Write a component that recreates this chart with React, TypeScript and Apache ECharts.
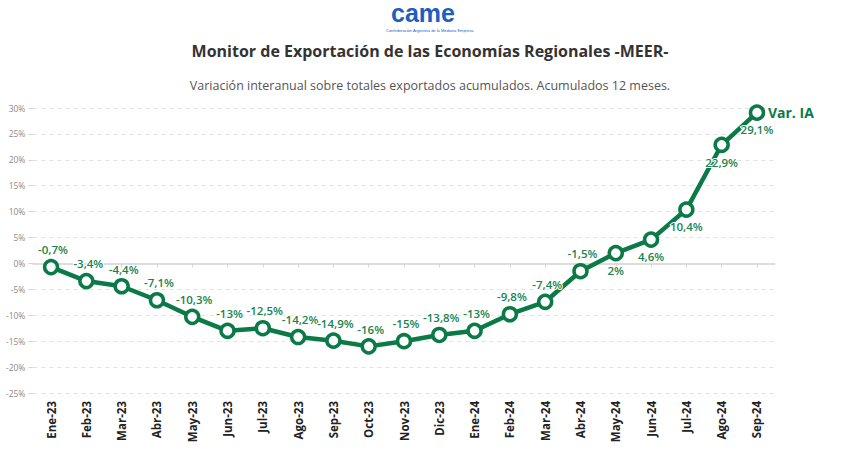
import React, { useEffect, useRef } from "react";
import * as echarts from "echarts";

const categories = [
  "Ene-23", "Feb-23", "Mar-23", "Abr-23", "May-23", "Jun-23", "Jul-23",
  "Ago-23", "Sep-23", "Oct-23", "Nov-23", "Dic-23", "Ene-24", "Feb-24",
  "Mar-24", "Abr-24", "May-24", "Jun-24", "Jul-24", "Ago-24", "Sep-24",
];
const varIA = [
  -0.7, -3.4, -4.4, -7.1, -10.3, -13, -12.5, -14.2, -14.9, -16, -15, -13.8,
  -13, -9.8, -7.4, -1.5, 2, 4.6, 10.4, 22.9, 29.1,
];
const labelBelow = ["May-24", "Jun-24", "Jul-24", "Ago-24", "Sep-24"];
const seriesName = "Var. IA";
const titleText = "Monitor de Exportación de las Economías Regionales -MEER-";
const subtitleText = "Variación interanual sobre totales exportados acumulados. Acumulados 12 meses.";

const GREEN = "#0b7a47";
const fmt = (v: number) => String(v).replace(".", ",") + "%";

export default function App() {
  const ref = useRef<HTMLDivElement>(null);
  useEffect(() => {
    if (!ref.current) return;
    const chart = echarts.init(ref.current, null, { renderer: "svg" });
    const data = varIA.map((v, i) => {
      const below = labelBelow.includes(categories[i]);
      return {
        value: v,
        label: below
          ? { position: "bottom", distance: 3 }
          : { position: "top", distance: 3, offset: [2, 0] },
      };
    });
    chart.setOption({
      animation: false,
      textStyle: { fontFamily: "Open Sans" },
      title: [
        {
          text: titleText,
          left: "center",
          top: 38,
          textStyle: { fontSize: 16, fontWeight: "bold", color: "#333", fontFamily: "Open Sans" },
        },
        {
          text: subtitleText,
          left: "center",
          top: 74,
          textStyle: { fontSize: 12.5, fontWeight: "normal", color: "#555", fontFamily: "Open Sans" },
        },
      ],
      graphic: [
        {
          type: "text",
          left: 391,
          top: 0,
          style: {
            text: "came",
            fontSize: 25,
            fontWeight: 900,
            fill: "#1d5fbf",
            fontFamily: "Arial",
          },
        },
        {
          type: "text",
          left: 386,
          top: 28,
          style: {
            text: "Confederación Argentina de la Mediana Empresa",
            fontSize: 4,
            fill: "#1d5fbf",
            fontFamily: "Arial",
          },
        },
      ],
      grid: { left: 33.4, right: 85.4, top: 108, bottom: 68, containLabel: false },
      xAxis: {
        type: "category",
        data: categories,
        boundaryGap: true,
        axisLine: { lineStyle: { color: "#dddddd", width: 2 } },
        axisTick: { show: true, alignWithLabel: true, length: 4, lineStyle: { color: "#d5d5d5" } },
        axisLabel: {
          rotate: 90,
          interval: 0,
          fontSize: 11.5,
          fontWeight: "bold",
          color: "#222",
          margin: 8,
          fontFamily: "Open Sans",
        },
      },
      yAxis: {
        type: "value",
        min: -25,
        max: 30,
        interval: 5,
        axisLine: { show: false },
        axisTick: { show: true, length: 5, lineStyle: { color: "#d5d5d5" } },
        splitLine: { lineStyle: { color: "#e2e2e2", type: [4, 4], width: 1 } },
        axisLabel: {
          formatter: (v: number) => v + "%",
          fontSize: 8.5,
          color: "#8a8a8a",
          margin: 8,
        },
      },
      series: [
        {
          name: seriesName,
          type: "line",
          data,
          symbol: "circle",
          symbolSize: 13,
          showAllSymbol: true,
          lineStyle: { color: GREEN, width: 4.5 },
          itemStyle: { color: "#ffffff", borderColor: GREEN, borderWidth: 3.5 },
          label: {
            show: true,
            formatter: (p: any) => fmt(p.value),
            color: "#17834f",
            fontSize: 11.5,
            fontWeight: 600,
            textBorderColor: "#ffffff",
            textBorderWidth: 2,
          },
          endLabel: {
            show: true,
            formatter: seriesName,
            color: GREEN,
            fontSize: 14,
            fontWeight: "bold",
            distance: 11,
          },
          emphasis: { disabled: true },
          z: 3,
        },
      ],
    });
    return () => chart.dispose();
  }, []);
  return (
    <div
      ref={ref}
      style={{ position: "fixed", left: 0, top: 0, width: 860, height: 461, background: "#fff" }}
    />
  );
}
